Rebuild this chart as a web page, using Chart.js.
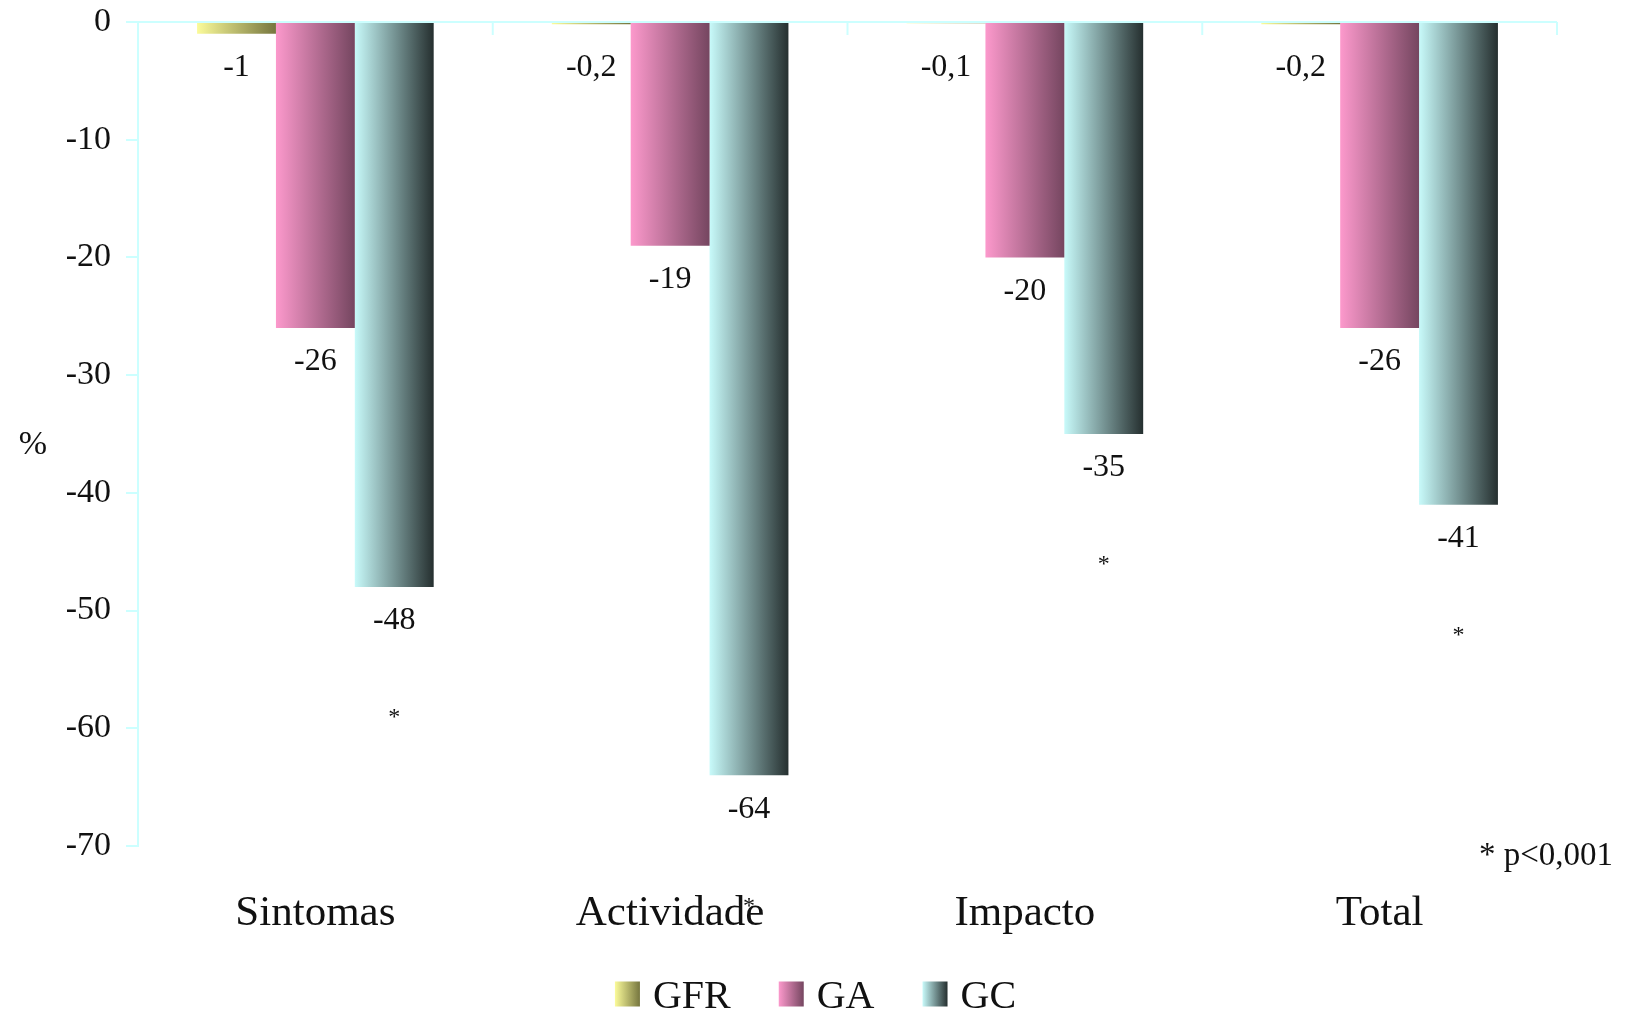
<!DOCTYPE html>
<html>
<head>
<meta charset="utf-8">
<script src="https://cdn.jsdelivr.net/npm/chart.js@4/dist/chart.umd.min.js"></script>
<style>
  html, body { margin: 0; padding: 0; background: #ffffff; }
  #wrap { width: 1631px; height: 1014px; }
</style>
</head>
<body>
<div id="wrap"><canvas id="c" width="1631" height="1014"></canvas></div>
<script>
// Categories and series (% change)
const categories = ['Sintomas', 'Actividade', 'Impacto', 'Total'];
const seriesNames = ['GFR', 'GA', 'GC'];
const gfrValues = [-1, -0.2, -0.1, -0.2];
const gaValues = [-26, -19, -20, -26];
const gcValues = [-48, -64, -35, -41];
// GC bars flagged as significant
const gcSignificant = [true, true, true, true];
const yTicks = [0, -10, -20, -30, -40, -50, -60, -70];
const footnote = '* p<0,001';

const FONT = "'Liberation Serif', 'Times New Roman', serif";
const AXIS_COLOR = '#ccffff';
const CAT_PCT = 0.667;

// light -> dark horizontal shading for each series
const shades = [
  ['#fbfb9a', '#76763f'],
  ['#fc99cc', '#754660'],
  ['#c8fafa', '#252f2f']
];

function barFill(ctx) {
  const chart = ctx.chart;
  const xs = chart.scales && chart.scales.x;
  const pair = shades[ctx.datasetIndex];
  if (!xs || !chart.chartArea || ctx.dataIndex === undefined) return pair[0];
  const catW = xs.width / categories.length;
  const barW = catW * CAT_PCT / seriesNames.length;
  const center = xs.getPixelForValue(ctx.dataIndex);
  const left = center - barW * seriesNames.length / 2 + ctx.datasetIndex * barW;
  const g = chart.ctx.createLinearGradient(left, 0, left + barW, 0);
  g.addColorStop(0, pair[0]);
  g.addColorStop(1, pair[1]);
  return g;
}

function fmt(v) {
  return String(v).replace('.', ',');
}

const decorations = {
  id: 'decorations',
  beforeDatasetsDraw(chart) {
    const { ctx, chartArea: a, scales: { x, y } } = chart;
    const y0 = y.getPixelForValue(0);
    ctx.save();
    ctx.strokeStyle = AXIS_COLOR;
    ctx.lineWidth = 2;
    // zero line (category axis)
    ctx.beginPath();
    ctx.moveTo(a.left - 12, y0);
    ctx.lineTo(a.right, y0);
    ctx.stroke();
    // category boundary ticks
    const catW = x.width / categories.length;
    for (let i = 0; i <= categories.length; i++) {
      const px = a.left + catW * i;
      ctx.beginPath();
      ctx.moveTo(px, y0);
      ctx.lineTo(px, y0 + 13);
      ctx.stroke();
    }
    ctx.restore();
  },
  afterDatasetsDraw(chart) {
    const { ctx, chartArea: a, scales: { y } } = chart;
    ctx.save();
    ctx.fillStyle = '#111111';
    ctx.textAlign = 'center';
    ctx.textBaseline = 'middle';
    ctx.font = `32px ${FONT}`;
    chart.data.datasets.forEach((ds, di) => {
      const meta = chart.getDatasetMeta(di);
      meta.data.forEach((bar, i) => {
        const v = ds.data[i];
        const yEnd = y.getPixelForValue(v);
        const yLab = Math.max(yEnd, y.getPixelForValue(0) + 12) + 34;
        ctx.fillText(fmt(v), bar.x, yLab);
      });
    });
    // significance marks under GC bars
    ctx.font = `24px ${FONT}`;
    const gcMeta = chart.getDatasetMeta(2);
    gcMeta.data.forEach((bar, i) => {
      if (!gcSignificant[i]) return;
      ctx.fillText('*', bar.x, y.getPixelForValue(gcValues[i]) + 131);
    });
    // axis unit
    ctx.font = `34px ${FONT}`;
    ctx.fillText('%', 33, (a.top + a.bottom) / 2 + 11);
    // footnote
    ctx.textAlign = 'right';
    ctx.font = `33px ${FONT}`;
    ctx.fillText(footnote, chart.width - 18, a.bottom + 10);
    // legend
    ctx.textAlign = 'left';
    ctx.font = `40px ${FONT}`;
    const box = 25;
    const gapText = 13, gapItem = 48;
    const widths = seriesNames.map(n => box + gapText + ctx.measureText(n).width);
    const total = widths.reduce((s, w) => s + w, 0) + gapItem * (seriesNames.length - 1);
    let lx = (chart.width - total) / 2;
    const ly = 994;
    seriesNames.forEach((n, i) => {
      const g = ctx.createLinearGradient(lx, 0, lx + box, 0);
      g.addColorStop(0, shades[i][0]);
      g.addColorStop(1, shades[i][1]);
      ctx.fillStyle = g;
      ctx.fillRect(lx, ly - box / 2, box, box);
      ctx.fillStyle = '#111111';
      ctx.fillText(n, lx + box + gapText, ly + 3);
      lx += widths[i] + gapItem;
    });
    ctx.restore();
  }
};

function makeDataset(i, values) {
  return {
    label: seriesNames[i],
    data: values,
    backgroundColor: barFill,
    borderWidth: 0,
    categoryPercentage: CAT_PCT,
    barPercentage: 1.0
  };
}

new Chart(document.getElementById('c'), {
  type: 'bar',
  data: {
    labels: categories,
    datasets: [
      makeDataset(0, gfrValues),
      makeDataset(1, gaValues),
      makeDataset(2, gcValues)
    ]
  },
  options: {
    responsive: false,
    animation: false,
    layout: { padding: { top: 22, right: 74, left: 0, bottom: 0 } },
    plugins: {
      legend: { display: false },
      tooltip: { enabled: false },
      colors: { enabled: false }
    },
    scales: {
      x: {
        position: 'bottom',
        grid: { display: false },
        border: { display: false },
        ticks: {
          color: '#111111',
          font: { family: FONT, size: 43 },
          padding: 34,
          maxRotation: 0
        },
        afterFit(scale) {
          scale.height = 168;
          scale.paddingLeft = 0;
          scale.paddingRight = 0;
        }
      },
      y: {
        min: -70,
        max: 0,
        afterBuildTicks(scale) { scale.ticks = yTicks.map(v => ({ value: v })); },
        grid: {
          drawOnChartArea: false,
          drawTicks: true,
          tickLength: 12,
          color: AXIS_COLOR,
          lineWidth: 2
        },
        border: { display: true, color: AXIS_COLOR, width: 2 },
        ticks: {
          color: '#111111',
          font: { family: FONT, size: 34 },
          padding: 15
        },
        afterFit(scale) {
          scale.width = 138;
          scale.paddingTop = 0;
          scale.paddingBottom = 0;
        }
      }
    }
  },
  plugins: [decorations]
});
</script>
</body>
</html>
